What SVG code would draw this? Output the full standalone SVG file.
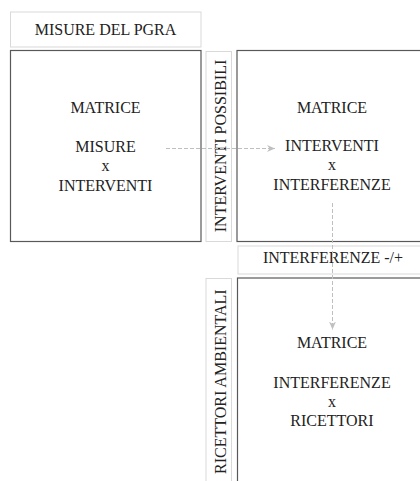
<svg xmlns="http://www.w3.org/2000/svg" width="420" height="481" viewBox="0 0 420 481" font-family="Liberation Serif, serif">
<defs>
<style>
.lbl{fill:#fff;stroke:#d9d9d9;stroke-width:1}
.box{fill:#fff;stroke:#595959;stroke-width:1.2}
text{font-family:'Liberation Serif',serif;font-size:16px;fill:#222;text-anchor:middle}
.conn{fill:none;stroke:#bfbfbf;stroke-width:1;stroke-dasharray:4 2}
</style>
<marker id="ah" markerUnits="userSpaceOnUse" markerWidth="9" markerHeight="8" refX="8" refY="3.5" orient="auto">
<path d="M0,0 L8,3.5 L0,7 L2.5,3.5 Z" fill="#bfbfbf"/>
</marker>
</defs>
<rect width="420" height="481" fill="#fff"/>
<g id="misure-pgra">
<rect class="lbl" x="10.5" y="12" width="190.5" height="35"/>
<text x="105.5" y="35">MISURE DEL PGRA</text>
</g>
<g id="matrice-misure-interventi">
<rect class="box" x="10.5" y="50.5" width="190.5" height="191"/>
<text x="105.5" y="113.3">MATRICE</text>
<text x="105.5" y="151.7">MISURE</text>
<text x="105.5" y="171">x</text>
<text x="105.5" y="190.5">INTERVENTI</text>
</g>
<g id="interventi-possibili">
<rect class="lbl" x="206" y="51.5" width="25.5" height="190"/>
<text transform="translate(225.5,146) rotate(-90)">INTERVENTI POSSIBILI</text>
</g>
<g id="matrice-interventi-interferenze">
<rect class="box" x="237" y="50.5" width="200" height="191"/>
<text x="332" y="112.7">MATRICE</text>
<text x="332" y="151">INTERVENTI</text>
<text x="332" y="170.3">x</text>
<text x="332" y="190">INTERFERENZE</text>
</g>
<g id="interferenze">
<rect class="lbl" x="238" y="246" width="200" height="28"/>
<text x="333" y="263.3">INTERFERENZE -/+</text>
</g>
<g id="ricettori-ambientali">
<rect class="lbl" x="206" y="278.5" width="25.5" height="220"/>
<text transform="translate(225.5,381.7) rotate(-90)">RICETTORI AMBIENTALI</text>
</g>
<g id="matrice-interferenze-ricettori">
<rect class="box" x="237.5" y="278" width="200" height="220"/>
<text x="332" y="348.3">MATRICE</text>
<text x="332" y="387.7">INTERFERENZE</text>
<text x="332" y="406.7">x</text>
<text x="332" y="425.5">RICETTORI</text>
</g>
<g id="connectors">
<line class="conn" x1="166" y1="148.5" x2="275" y2="148.5" marker-end="url(#ah)"/>
<line class="conn" x1="332.5" y1="203" x2="332.5" y2="329.5" marker-end="url(#ah)"/>
</g>
</svg>
